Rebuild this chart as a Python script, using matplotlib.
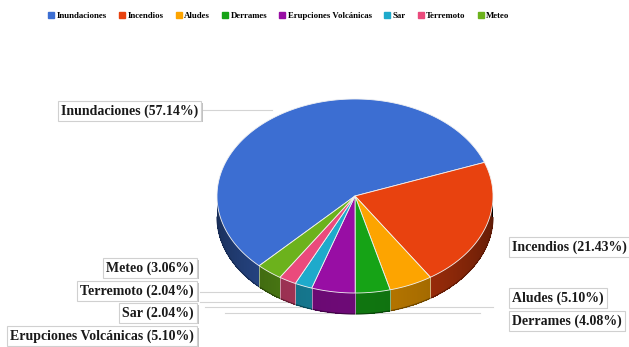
import matplotlib
matplotlib.use('Agg')

import numpy as np
import matplotlib.pyplot as plt
import matplotlib.patheffects as pe
from matplotlib.colors import to_rgb
from matplotlib.patches import Polygon
from matplotlib.lines import Line2D

categories = ['Inundaciones', 'Incendios', 'Aludes', 'Derrames',
              'Erupciones Volcánicas', 'Sar', 'Terremoto', 'Meteo']
shares = [57.14, 21.43, 5.10, 4.08, 5.10, 2.04, 2.04, 3.06]
colors = ['#3c6ed2', '#e8420f', '#fda400', '#16a316',
          '#980ea4', '#1eaacb', '#ea4a7c', '#6cb21c']

# geometry of the tilted pie (pixel-like data coords, y down)
CX, CY = 355, 196
RX, RY = 138, 97
DEPTH = 21
START = 226.0          # degrees, slices run clockwise

# label placement: (x, y, side)
label_pos = {
    'Inundaciones':          (198, 111, 'L'),
    'Incendios':             (512, 247, 'R'),
    'Aludes':                (512, 298, 'R'),
    'Derrames':              (512, 321, 'R'),
    'Erupciones Volcánicas': (194, 336, 'L'),
    'Sar':                   (194, 313, 'L'),
    'Terremoto':             (194, 291, 'L'),
    'Meteo':                 (194, 268, 'L'),
}

SERIF = ['Liberation Serif', 'DejaVu Serif']


def pt(theta_deg, dy=0.0):
    t = np.radians(theta_deg)
    return CX + RX * np.cos(t), CY - RY * np.sin(t) + dy


fig = plt.figure(figsize=(6.29, 3.47), dpi=100)
ax = fig.add_axes([0, 0, 1, 1])
ax.set_xlim(0, 629)
ax.set_ylim(347, 0)
ax.axis('off')

# faint leader lines (behind the pie)
for (x0, x1, y) in [(203, 272, 110), (200, 262, 292), (200, 300, 302),
                    (205, 493, 307), (225, 480, 313)]:
    ax.plot([x0, x1], [y, y], color='#d4d4d4', lw=0.8, zorder=0)

total = sum(shares)
angles = []
a = START
for v in shares:
    span = 360.0 * v / total
    angles.append((a - span, a))
    a -= span

# side walls, shaded by angle
for (a0, a1), col in zip(angles, colors):
    base = np.array(to_rgb(col))
    th = np.linspace(a0, a1, max(int((a1 - a0) * 1.5), 2))
    front = [t for t in th if np.sin(np.radians(t)) <= 0.01]
    for t0, t1 in zip(th[:-1], th[1:]):
        s = np.sin(np.radians(0.5 * (t0 + t1)))
        if s > 0.02:
            continue
        shade = 0.42 + 0.3 * (-s) ** 1.5
        x0, y0 = pt(t0)
        x1, y1 = pt(t1)
        ax.add_patch(Polygon([(x0, y0 - 1), (x1, y1 - 1), (x1, y1 + DEPTH), (x0, y0 + DEPTH)],
                             closed=True, facecolor=base * shade,
                             edgecolor='none', antialiased=False, zorder=1))
    if len(front) > 1:
        bx, by = pt(np.array(front), DEPTH)
        ax.plot(bx, by, color=base * 0.4, lw=0.8, zorder=1.2, solid_capstyle='butt')
    for t in (a0, a1):
        if np.sin(np.radians(t)) < 0:
            x, y = pt(t)
            ax.plot([x, x], [y, y + DEPTH], color='white', lw=0.4, alpha=0.5, zorder=1.5)

# top faces
for (a0, a1), col in zip(angles, colors):
    th = np.linspace(a0, a1, max(int((a1 - a0) * 2), 2))
    xs, ys = pt(th)
    verts = [(CX, CY)] + list(zip(xs, ys))
    ax.add_patch(Polygon(verts, closed=True, facecolor=col,
                         edgecolor='#f2f2f2', lw=0.6, zorder=2))

# labels with shadowed boxes
for name, v in zip(categories, shares):
    x, y, side = label_pos[name]
    txt = ax.text(x, y, f'{name} ({v:.2f}%)', ha='right' if side == 'L' else 'left',
                  va='center', fontsize=10, fontweight='bold', family=SERIF,
                  color='#1a1a1a', zorder=5,
                  bbox=dict(boxstyle='square,pad=0.22', facecolor='white',
                            edgecolor='#d0d0d0', lw=0.8))
    txt.get_bbox_patch().set_path_effects(
        [pe.withSimplePatchShadow(offset=(1.2, -1.2), shadow_rgbFace='#9a9a9a', alpha=0.6)])

# legend
handles = [Line2D([], [], marker='s', ls='none', markersize=4, color=c) for c in colors]
fig.legend(handles, categories, loc='center', bbox_to_anchor=(0.444, 0.955), ncol=8,
           frameon=False, handlelength=0.5, handletextpad=0.35, columnspacing=1.5,
           prop=dict(family=SERIF, weight='bold', size=6.3))

fig.savefig('out.png', dpi=100, facecolor='white')
